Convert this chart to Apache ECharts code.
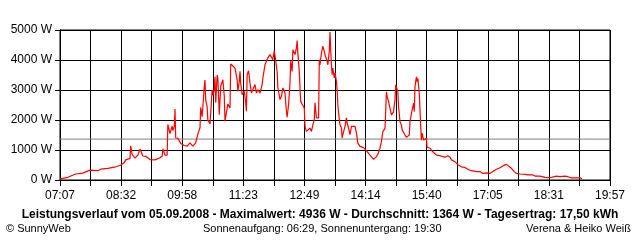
<!DOCTYPE html>
<html><head><meta charset="utf-8">
<script src="https://cdn.jsdelivr.net/npm/echarts@6/dist/echarts.min.js"></script>
<style>html,body{margin:0;padding:0;background:#fff}#c{width:640px;height:240px}</style>
</head><body><div id="c"></div>
<script>
// Data
const times = ["07:07","07:18","07:29","07:39","07:49","07:50","08:00","08:04","08:14","08:25","08:32","08:37","08:39","08:45","08:46","08:48","08:52","08:56","08:59","09:03","09:07","09:13","09:20","09:27","09:30","09:31","09:34","09:37","09:38","09:41","09:44","09:45","09:47","09:48","09:49","09:52","09:56","10:01","10:05","10:09","10:13","10:17","10:20","10:23","10:24","10:26","10:29","10:30","10:31","10:33","10:34","10:37","10:38","10:40","10:41","10:43","10:44","10:45","10:47","10:48","10:50","10:52","10:55","10:57","10:58","10:59","11:02","11:05","11:06","11:09","11:12","11:13","11:15","11:16","11:18","11:19","11:20","11:22","11:25","11:27","11:28","11:29","11:31","11:33","11:35","11:37","11:40","11:42","11:44","11:47","11:50","11:51","11:54","11:56","11:58","12:01","12:03","12:05","12:07","12:09","12:11","12:12","12:15","12:17","12:19","12:22","12:24","12:25","12:27","12:29","12:30","12:32","12:33","12:36","12:38","12:39","12:40","12:42","12:43","12:44","12:46","12:49","12:50","12:52","12:54","12:57","12:59","13:01","13:03","13:04","13:06","13:09","13:10","13:11","13:13","13:15","13:17","13:18","13:21","13:22","13:24","13:25","13:26","13:27","13:28","13:29","13:31","13:32","13:34","13:35","13:36","13:38","13:39","13:41","13:42","13:43","13:46","13:48","13:49","13:51","13:53","13:55","14:00","14:02","14:04","14:07","14:08","14:12","14:16","14:21","14:26","14:30","14:32","14:35","14:37","14:39","14:42","14:43","14:44","14:45","14:47","14:49","14:50","14:51","14:54","14:56","14:57","14:59","15:00","15:01","15:03","15:05","15:06","15:08","15:10","15:12","15:14","15:16","15:17","15:19","15:20","15:22","15:23","15:24","15:26","15:27","15:28","15:30","15:31","15:32","15:33","15:34","15:36","15:38","15:40","15:41","15:45","15:47","15:49","15:54","15:59","16:03","16:06","16:08","16:10","16:13","16:15","16:20","16:24","16:29","16:34","16:38","16:43","16:50","16:55","16:59","17:04","17:09","17:13","17:18","17:23","17:27","17:32","17:34","17:39","17:43","17:46","17:51","17:58","18:02","18:09","18:12","18:19","18:21","18:26","18:30","18:35","18:42","18:47","18:54","18:58","19:03","19:10","19:16","19:18"];
const watts = [40,90,200,230,330,370,310,360,390,440,490,580,670,720,1140,850,730,830,1030,800,790,680,670,740,800,1040,830,830,1850,1550,1800,1650,1780,2370,1400,1390,1220,1150,1130,1240,1130,1240,1530,1740,2420,2110,3110,3330,2670,2440,2000,1870,1870,3000,2830,3020,3440,2580,3500,3390,2180,3120,3340,2790,1960,1930,2530,2400,3870,3800,3730,3680,3340,2960,3290,3620,3230,2840,2960,2570,2290,3510,3640,3230,2900,2900,3180,2900,3010,2900,3180,3400,3840,3960,4070,4180,4230,4010,4310,4290,3620,3070,2680,2790,3070,2900,2290,2090,2510,3230,3960,3620,4340,4180,4400,4650,4230,3620,3070,2620,2530,2400,1790,1620,1570,1730,1620,1840,2010,2570,2070,2070,4010,3840,4230,4460,4290,4180,3960,3840,4290,4936,4340,3840,3510,3730,3400,3570,3290,3010,2510,2010,1840,1730,1400,1510,1790,2070,1900,1730,1510,1790,1790,1570,1230,1120,1060,1080,980,830,690,780,860,1060,1280,1610,1720,2330,2940,2780,2610,2670,2280,2170,2280,2670,3170,3220,2940,2440,1940,1830,1670,1610,1500,1420,1370,1500,1940,2220,2220,2560,2280,3110,3440,3280,3390,2890,2330,1780,1330,1560,1330,1330,1390,1090,1060,1000,940,830,810,780,760,780,810,760,670,610,510,440,420,360,310,280,280,220,240,220,280,360,410,470,520,470,390,280,220,200,190,170,170,130,130,110,90,80,90,130,110,130,110,70,70,70,20];
const average = 1364;
const tickLabels = ["07:07","08:32","09:58","11:23","12:49","14:14","15:40","17:05","18:31","19:57"];
const yTicks = [0,1000,2000,3000,4000,5000];
const startTime = "07:07", endTime = "19:57";
const gridSteps = 18;

function toMin(t){const p=t.split(':');return (+p[0])*60+(+p[1]);}
const t0 = toMin(startTime), t1 = toMin(endTime);
const toUnit = t => (toMin(t)-t0)*gridSteps/(t1-t0);
const lineData = times.map((t,i)=>[toUnit(t), watts[i]]);

const font = 'Liberation Sans, Arial, sans-serif';
const chart = echarts.init(document.getElementById('c'), null, {renderer:'canvas'});
chart.setOption({
  animation:false,
  backgroundColor:'#fff',
  grid:{left:60,right:30,top:30,bottom:60,show:true,borderColor:'#000',borderWidth:1},
  xAxis:{type:'value',min:0,max:gridSteps,interval:1,
    axisLine:{show:true,lineStyle:{color:'#000',width:1}},
    axisTick:{show:true,length:6,lineStyle:{color:'#000'}},
    splitLine:{show:true,lineStyle:{color:'#000',width:1}},
    axisLabel:{margin:10,color:'#000',fontFamily:font,fontSize:12,
      formatter:v=>{const i=Math.round(v);return i%2===0?tickLabels[i/2]:'';}}},
  yAxis:{type:'value',min:yTicks[0],max:yTicks[yTicks.length-1],interval:1000,
    axisLine:{show:true,lineStyle:{color:'#000',width:1}},
    axisTick:{show:true,length:5,lineStyle:{color:'#000'}},
    splitLine:{show:true,lineStyle:{color:'#000',width:1}},
    axisLabel:{margin:8,color:'#000',fontFamily:font,fontSize:12,formatter:v=>String(Math.round(v))+' W'}},
  series:[
    {type:'line',data:[[0,average],[gridSteps,average]],symbol:'none',silent:true,
     lineStyle:{color:'#808080',width:1},z:1},
    {type:'line',data:lineData,symbol:'none',lineStyle:{color:'#ff0000',width:1.2},z:3}
  ],
  graphic:[
    {type:'text',x:320,y:209,style:{text:'Leistungsverlauf vom 05.09.2008 - Maximalwert: 4936 W - Durchschnitt: 1364 W - Tagesertrag: 17,50 kWh',
      fill:'#000',font:'bold 12px '+font,textAlign:'center'}},
    {type:'text',x:6,y:223,style:{text:'© SunnyWeb',fill:'#000',font:'11px '+font,textAlign:'left'}},
    {type:'text',x:203,y:223,style:{text:'Sonnenaufgang: 06:29, Sonnenuntergang: 19:30',fill:'#000',font:'11px '+font,textAlign:'left'}},
    {type:'text',x:631,y:223,style:{text:'Verena & Heiko Weiß',fill:'#000',font:'11px '+font,textAlign:'right'}}
  ]
});
</script></body></html>
